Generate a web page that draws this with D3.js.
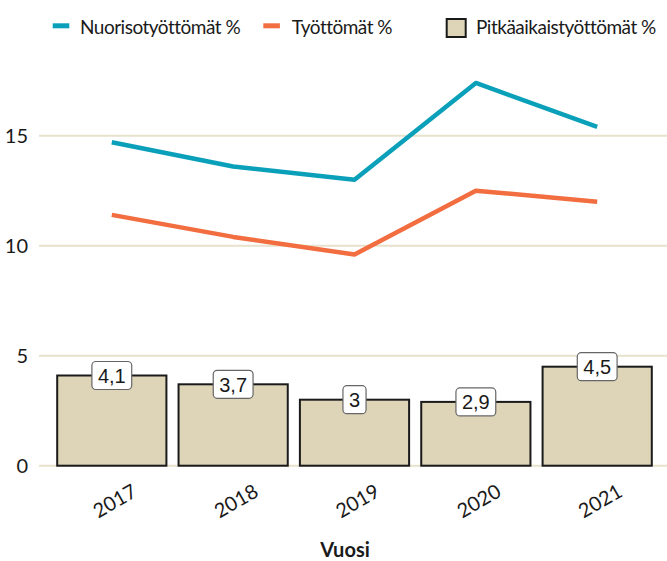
<!DOCTYPE html>
<html>
<head>
<meta charset="utf-8">
<script src="https://cdn.jsdelivr.net/npm/d3@7"></script>
<style>
  body { margin: 0; background: #fff; }
  svg { display: block; font-family: Lato, "Noto Sans", sans-serif; }
</style>
</head>
<body>
<div id="chart"></div>
<script>
// chart data
var years = ["2017", "2018", "2019", "2020", "2021"];
var nuorisoValues = [14.7, 13.6, 13.0, 17.4, 15.4];
var tyottomatValues = [11.4, 10.4, 9.6, 12.5, 12.0];
var pitkaValues = [4.1, 3.7, 3.0, 2.9, 4.5];
var yTicks = [0, 5, 10, 15];
var seriesNames = ["Nuorisotyöttömät %", "Työttömät %", "Pitkäaikaistyöttömät %"];

var width = 667, height = 561;
var colBlue = "#0ba0b9", colOrange = "#f26d3f", colBar = "#ded5b8";

var svg = d3.select("#chart").append("svg")
    .attr("width", width)
    .attr("height", height);

// scales (panel runs a bit past the right edge, like the original)
var x = d3.scaleBand()
    .domain(years)
    .range([39, 670])
    .paddingInner(0.1)
    .paddingOuter(0.15);

var y = d3.scaleLinear()
    .domain([0, 15])
    .range([465.7, 135.7]);

// gridlines
svg.append("g")
    .selectAll("line")
    .data(yTicks)
    .enter().append("line")
    .attr("x1", 39)
    .attr("x2", width)
    .attr("y1", function(d) { return y(d); })
    .attr("y2", function(d) { return y(d); })
    .attr("stroke", "#e8e1cc")
    .attr("stroke-width", 2);

// y axis labels
svg.append("g")
    .selectAll("text")
    .data(yTicks)
    .enter().append("text")
    .attr("x", 28)
    .attr("y", function(d) { return y(d); })
    .attr("dy", "0.35em")
    .attr("text-anchor", "end")
    .attr("font-size", 20)
    .attr("fill", "#1a1a1a")
    .text(function(d) { return d; });

// bars
var barData = years.map(function(yr, i) { return {year: yr, value: pitkaValues[i]}; });

svg.append("g")
    .selectAll("rect")
    .data(barData)
    .enter().append("rect")
    .attr("x", function(d) { return x(d.year); })
    .attr("y", function(d) { return y(d.value); })
    .attr("width", x.bandwidth())
    .attr("height", function(d) { return y(0) - y(d.value); })
    .attr("fill", colBar)
    .attr("stroke", "#1a1a1a")
    .attr("stroke-width", 2);

// lines
var line = d3.line()
    .x(function(d) { return x(d.year) + x.bandwidth() / 2; })
    .y(function(d) { return y(d.value); });

[[nuorisoValues, colBlue], [tyottomatValues, colOrange]].forEach(function(s) {
    var pts = years.map(function(yr, i) { return {year: yr, value: s[0][i]}; });
    svg.append("path")
        .datum(pts)
        .attr("fill", "none")
        .attr("stroke", s[1])
        .attr("stroke-width", 4.5)
        .attr("stroke-linejoin", "round")
        .attr("d", line);
});

// value labels on bars
var fmt = function(v) { return String(v).replace(".", ","); };
var labels = svg.append("g")
    .selectAll("g")
    .data(barData)
    .enter().append("g")
    .attr("transform", function(d) {
        return "translate(" + (x(d.year) + x.bandwidth() / 2) + "," + y(d.value) + ")";
    });

labels.append("text")
    .attr("text-anchor", "middle")
    .attr("dy", "0.36em")
    .attr("font-family", "'Liberation Sans', Arial, sans-serif")
    .attr("font-size", 20)
    .attr("fill", "#1a1a1a")
    .text(function(d) { return fmt(d.value); });

labels.each(function() {
    var g = d3.select(this);
    var bb = g.select("text").node().getBBox();
    g.insert("rect", "text")
        .attr("x", bb.x - 6)
        .attr("y", -14)
        .attr("width", bb.width + 12)
        .attr("height", 28)
        .attr("rx", 4)
        .attr("fill", "#fff")
        .attr("stroke", "#666")
        .attr("stroke-width", 1.2);
});

// x axis labels
svg.append("g")
    .selectAll("text")
    .data(years)
    .enter().append("text")
    .attr("transform", function(d) {
        return "translate(" + (x(d) + x.bandwidth() / 2 + 3) + ",501) rotate(-30)";
    })
    .attr("text-anchor", "middle")
    .attr("dy", "0.35em")
    .attr("font-size", 20)
    .attr("fill", "#1a1a1a")
    .text(function(d) { return d; });

// axis title
svg.append("text")
    .attr("x", 345)
    .attr("y", 557)
    .attr("text-anchor", "middle")
    .attr("font-size", 20)
    .attr("font-weight", "bold")
    .attr("fill", "#1a1a1a")
    .text("Vuosi");

// legend
var legend = svg.append("g");
var legendX = [52.7, 263.3, 446.7];
var textX = [80, 291.7, 476];

legend.append("rect")
    .attr("x", legendX[0]).attr("y", 23.3)
    .attr("width", 16.6).attr("height", 5)
    .attr("fill", colBlue);
legend.append("rect")
    .attr("x", legendX[1]).attr("y", 23.3)
    .attr("width", 16.6).attr("height", 5)
    .attr("fill", colOrange);
legend.append("rect")
    .attr("x", legendX[2]).attr("y", 19)
    .attr("width", 19).attr("height", 18)
    .attr("fill", colBar)
    .attr("stroke", "#1a1a1a")
    .attr("stroke-width", 2);

legend.selectAll("text")
    .data(seriesNames)
    .enter().append("text")
    .attr("x", function(d, i) { return textX[i]; })
    .attr("y", 34)
    .attr("font-size", 19)
    .attr("letter-spacing", -0.5)
    .attr("fill", "#1a1a1a")
    .text(function(d) { return d; });
</script>
</body>
</html>
